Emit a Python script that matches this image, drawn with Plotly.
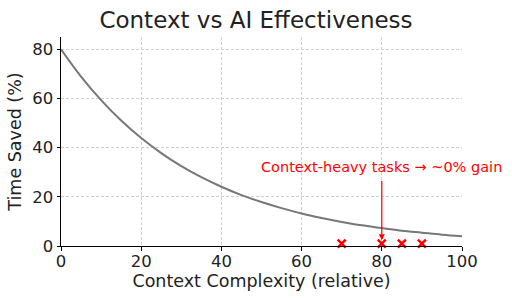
import plotly.graph_objects as go

# Curve
complexity = [0, 5, 10, 15, 20, 25, 30, 35, 40, 45, 50, 55, 60, 65, 70, 75, 80, 85, 90, 95, 100]
time_saved = [80, 68.9, 59.3, 51.0, 43.9, 37.8, 32.5, 28.0, 24.1, 20.7, 17.9, 15.4, 13.2, 11.4, 9.8, 8.4, 7.3, 6.2, 5.4, 4.6, 4.0]

# Context-heavy tasks (red x markers)
heavy_x = [70, 80, 85, 90]
heavy_y = [1, 1, 1, 1]

x_ticks = [0, 20, 40, 60, 80, 100]
y_ticks = [0, 20, 40, 60, 80]

annot_text = "Context-heavy tasks → ~0% gain"
annot_pos = (80, 32)
arrow_tail = (80, 27)
arrow_tip = (80, 2.3)

FONT = "DejaVu Sans"

fig = go.Figure()
fig.add_trace(go.Scatter(x=complexity, y=time_saved, mode="lines",
                         line=dict(color="#777777", width=2, shape="spline"),
                         showlegend=False, hoverinfo="skip"))
fig.add_trace(go.Scatter(x=heavy_x, y=heavy_y, mode="markers",
                         marker=dict(symbol="x-thin", size=8, line=dict(color="red", width=2.5), color="red"),
                         showlegend=False, hoverinfo="skip", cliponaxis=False))

fig.add_annotation(x=annot_pos[0], y=annot_pos[1], xref="x", yref="y", text=annot_text,
                   showarrow=False, font=dict(family=FONT, size=14.5, color="red"))
fig.add_annotation(x=arrow_tip[0], y=arrow_tip[1], ax=arrow_tail[0], ay=arrow_tail[1],
                   xref="x", yref="y", axref="x", ayref="y", text="",
                   showarrow=True, arrowhead=2, arrowsize=1, arrowwidth=1.2, arrowcolor="red")

fig.update_layout(
    width=512, height=302,
    margin=dict(l=61, r=50, t=37, b=56),
    paper_bgcolor="white", plot_bgcolor="white",
    font=dict(family=FONT, color="black"),
    title=dict(text="Context vs AI Effectiveness", x=0.5, xanchor="center",
               y=1 - 20 / 302, yanchor="middle", font=dict(family=FONT, size=23, color="#222222")),
    xaxis=dict(range=[0, 100], tickvals=x_ticks, showline=True, linecolor="black", linewidth=1,
               ticks="outside", ticklen=3.5, tickcolor="black", tickfont=dict(size=16.5, color="#222222"),
               ticklabelstandoff=-3,
               showgrid=True, gridcolor="#cfcfcf", griddash="3px,2px", gridwidth=0.8, zeroline=False,
               title=dict(text="Context Complexity (relative)", font=dict(size=17.5, color="#222222"), standoff=2)),
    yaxis=dict(range=[0, 85], tickvals=y_ticks, showline=True, linecolor="black", linewidth=1,
               ticks="outside", ticklen=3.5, tickcolor="black", tickfont=dict(size=16.5, color="#222222"),
               showgrid=True, gridcolor="#cfcfcf", griddash="3px,2px", gridwidth=0.8, zeroline=False,
               title=dict(text="Time Saved (%)", font=dict(size=17.5, color="#222222"), standoff=6)),
)

fig.write_html("out.html")
